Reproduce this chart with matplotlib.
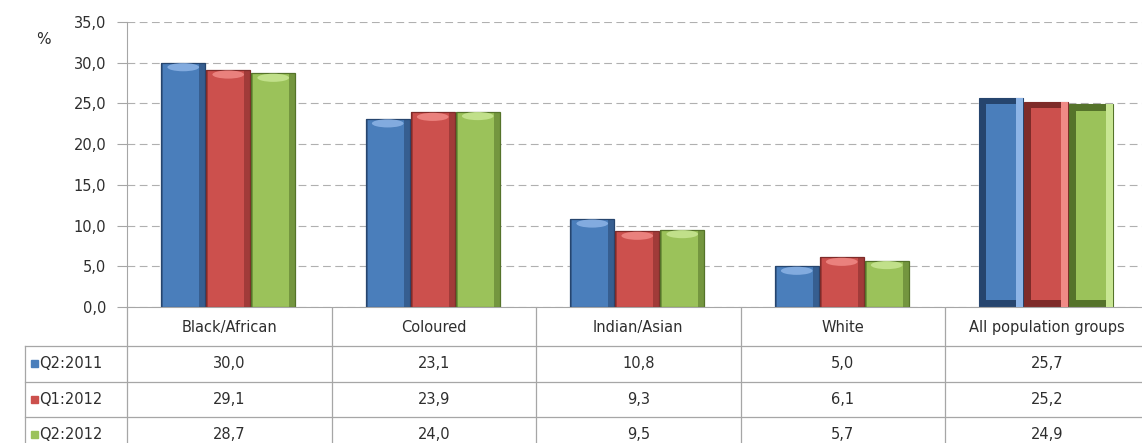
import matplotlib
matplotlib.use("Agg")
import matplotlib.pyplot as plt
from matplotlib.patches import Ellipse, Rectangle
import numpy as np

# Unemployment rate by population group (%)
categories = ["Black/African", "Coloured", "Indian/Asian", "White", "All population groups"]
series_names = ["Q2:2011", "Q1:2012", "Q2:2012"]
q2_2011 = [30.0, 23.1, 10.8, 5.0, 25.7]
q1_2012 = [29.1, 23.9, 9.3, 6.1, 25.2]
q2_2012 = [28.7, 24.0, 9.5, 5.7, 24.9]
y_ticks = [0, 5, 10, 15, 20, 25, 30, 35]

series = [q2_2011, q1_2012, q2_2012]
main_cols = ["#4a7ebb", "#cc504d", "#9bc25a"]
dark_cols = ["#26456e", "#7e2b29", "#55732a"]
light_cols = ["#8db4e6", "#f08a86", "#c8e693"]

plt.rcParams["font.family"] = ["DejaVu Sans"]
TXT = "#2e2e2e"
LINE = "#a6a6a6"
FS = 10.5

W, H = 1142, 443
fig = plt.figure(figsize=(W / 100, H / 100), dpi=100)

# plot area in pixel terms
left_px, top_px, bottom_px = 127, 22, 307
col_w_px = 204.5
ncat = len(categories)
ax = fig.add_axes([left_px / W, (H - bottom_px) / H,
                   col_w_px * ncat / W, (bottom_px - top_px) / H])
ax.set_xlim(-0.5, ncat - 0.5)
ax.set_ylim(0, 35)
ax.set_yticks(y_ticks)
ax.set_yticklabels([f"{t:.1f}".replace(".", ",") for t in y_ticks],
                   fontsize=FS, color=TXT)
ax.set_xticks([])
ax.tick_params(axis="y", length=7, color=LINE, pad=8, width=0.8)
for s in ["top", "right"]:
    ax.spines[s].set_visible(False)
ax.spines["left"].set_color(LINE)
ax.spines["bottom"].set_color(LINE)
ax.yaxis.grid(True, color="#b0b0b0", linestyle=(0, (7, 4)), linewidth=0.8)
ax.set_axisbelow(True)

x = np.arange(ncat)
w = 0.215
offsets = [-0.225, -0.005, 0.215]

for i, vals in enumerate(series):
    xs = x + offsets[i]
    for j, v in enumerate(vals):
        xc = xs[j]
        if j < ncat - 1:
            # rounded-top bevel style
            ax.bar(xc, v, width=w, color=main_cols[i], edgecolor=dark_cols[i],
                   linewidth=0.9, zorder=2)
            ax.bar(xc + w / 2 - w * 0.14, v, width=w * 0.14, align="edge",
                   color=dark_cols[i], alpha=0.55, linewidth=0, zorder=3)
            ax.bar(xc - w / 2, v, width=w * 0.05, align="edge",
                   color=dark_cols[i], alpha=0.5, linewidth=0, zorder=3)
            ax.add_patch(Ellipse((xc, v - 0.55), w * 0.72, 1.0,
                                 color=light_cols[i], alpha=0.85, zorder=4,
                                 linewidth=0))
        else:
            # framed bevel style
            fr_x, fr_y = 0.035, 0.8
            ax.bar(xc, v, width=w, color=dark_cols[i], edgecolor=dark_cols[i],
                   linewidth=0.8, zorder=2)
            ax.bar(xc + w / 2 - fr_x, v, width=fr_x, align="edge",
                   color=light_cols[i], linewidth=0, zorder=3)
            ax.bar(xc, v - 2 * fr_y, bottom=fr_y, width=w - 2 * fr_x,
                   color=main_cols[i], linewidth=0, zorder=4)

fig.text(36 / W, 1 - 40 / H, "%", fontsize=11, color=TXT, ha="left", va="center")

# data table below the plot, drawn in pixel coordinates
tab = fig.add_axes([0, 0, 1, 1], zorder=-1)
tab.set_xlim(0, W)
tab.set_ylim(H, 0)
tab.axis("off")

edges = left_px + col_w_px * np.arange(ncat + 1)
header_bottom = 346
row_h = 35.5
row_lines = header_bottom + row_h * np.arange(len(series) + 1)

for xe in edges:
    tab.plot([xe, xe], [bottom_px, H], color=LINE, lw=0.9)
tab.plot([25, 25], [header_bottom, H], color=LINE, lw=0.9)
for yl in row_lines:
    tab.plot([25, edges[-1]], [yl, yl], color=LINE, lw=0.9)

centers = (edges[:-1] + edges[1:]) / 2
for j, name in enumerate(categories):
    tab.text(centers[j], (bottom_px + header_bottom) / 2 + 1, name,
             ha="center", va="center", fontsize=FS, color=TXT)

for i, (lab, vals) in enumerate(zip(series_names, series)):
    yc = row_lines[i] + row_h / 2
    tab.add_patch(Rectangle((31, yc - 3.5), 7, 7, color=main_cols[i]))
    tab.text(39, yc, lab, ha="left", va="center", fontsize=FS, color=TXT)
    for j, v in enumerate(vals):
        tab.text(centers[j], yc, f"{v:.1f}".replace(".", ","),
                 ha="center", va="center", fontsize=FS, color=TXT)

fig.savefig("out.png", dpi=100)
